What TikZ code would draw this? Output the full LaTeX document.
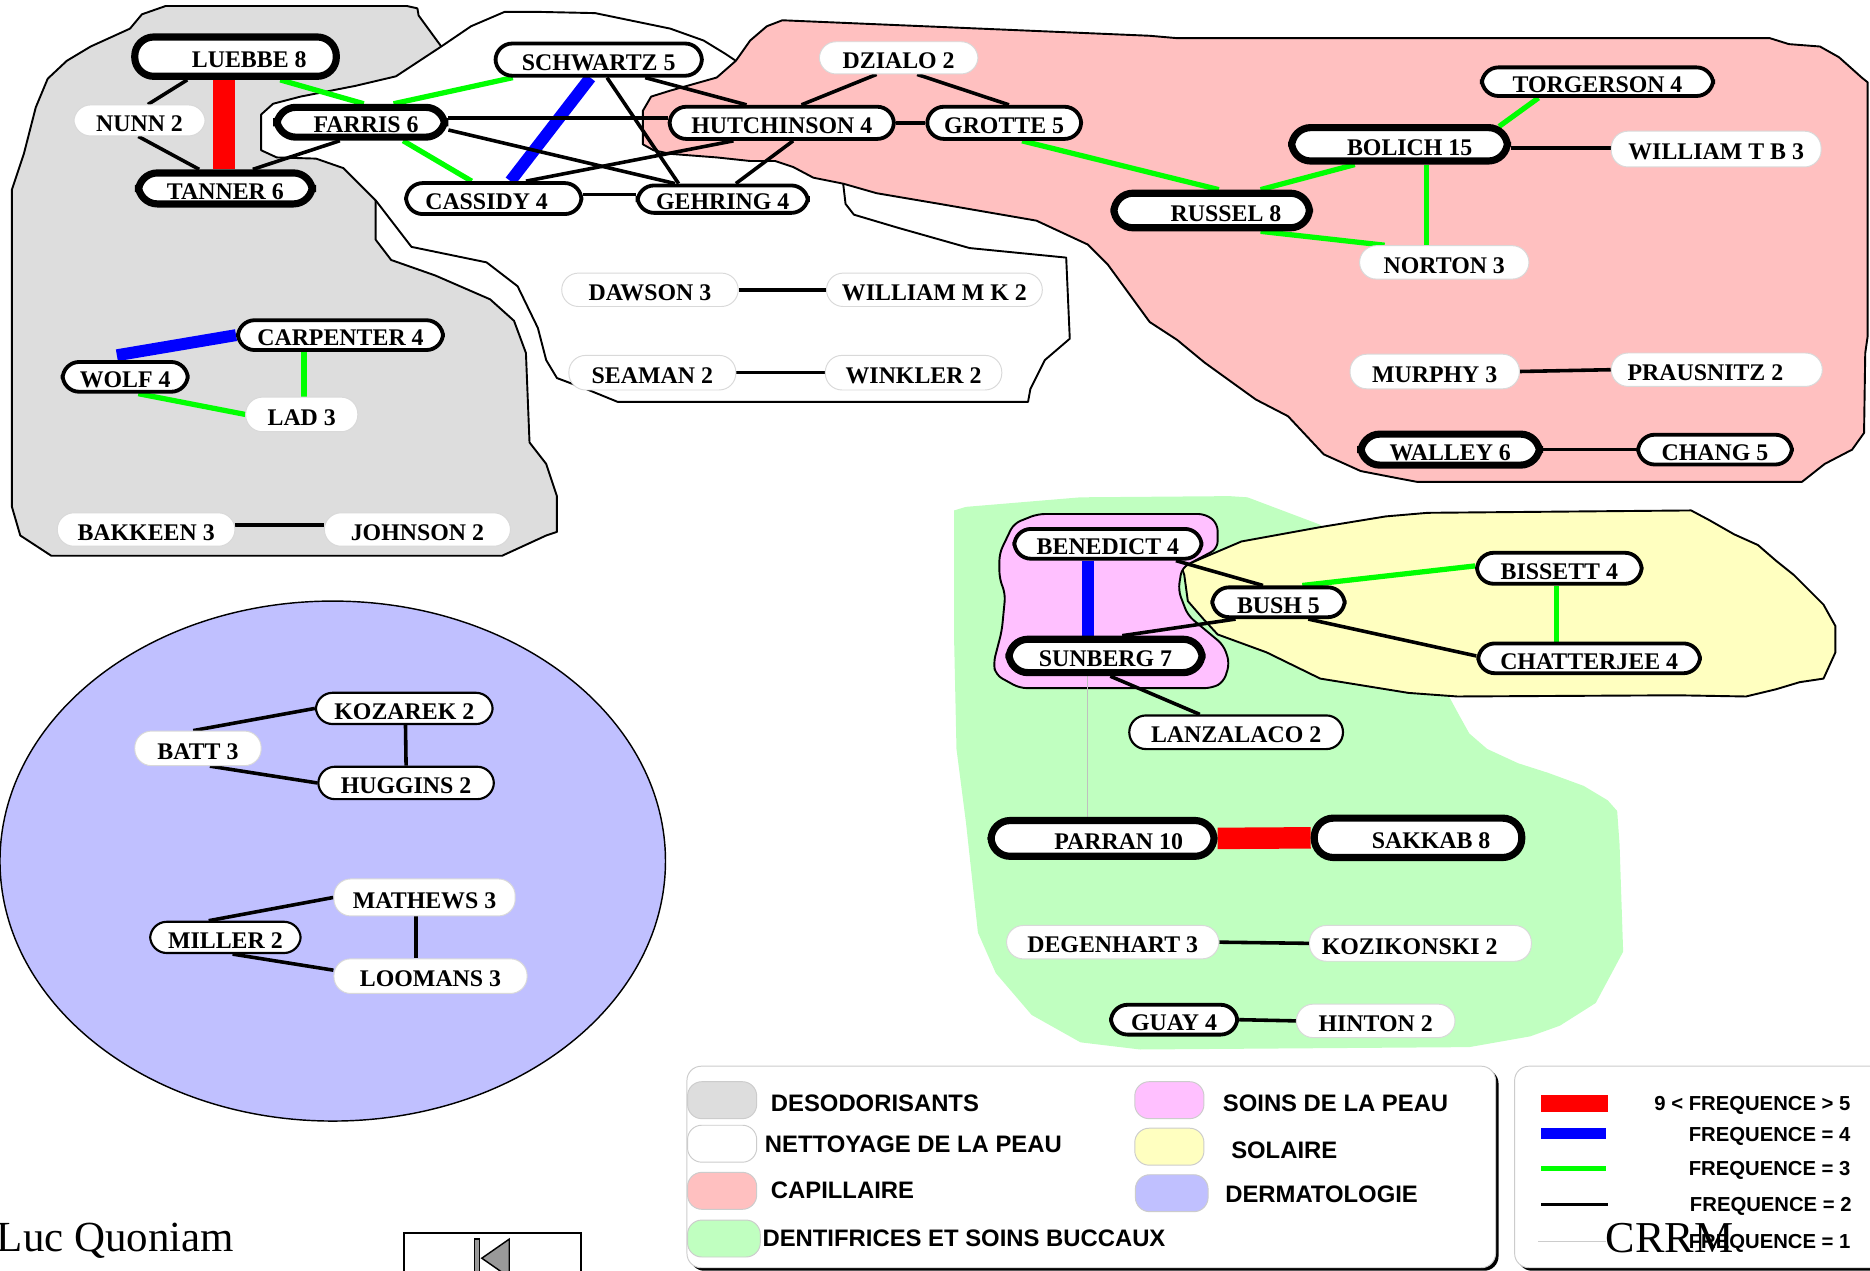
\documentclass[tikz,border=0pt]{standalone}
\usepackage{fontspec}
\setmainfont{Liberation Serif}
\newfontfamily\legendeFont{Liberation Sans}
\usetikzlibrary{calc}
\pgfdeclarelayer{fond}
\pgfdeclarelayer{liens}
\pgfsetlayers{fond,liens,main}
\definecolor{grisDeo}{HTML}{DDDDDD}
\definecolor{roseCap}{HTML}{FFC0C0}
\definecolor{vertDent}{HTML}{C0FFC0}
\definecolor{roseSoin}{HTML}{FFC0FF}
\definecolor{jauneSol}{HTML}{FFFFC0}
\definecolor{bleuDerm}{HTML}{C0C0FF}
\definecolor{vertVif}{HTML}{00FF00}
\begin{document}
\begin{tikzpicture}[x=0.5pt, y=-0.5pt,
	nomBox/.style={rectangle, rounded corners=7pt, fill=white, inner sep=0pt, font=\bfseries\fontsize{10}{12}\selectfont, text height=9pt, text depth=0pt},
	grosBox/.style={nomBox, draw=black, line width=3pt, rounded corners=8pt},
	moyenBox/.style={nomBox, draw=black, line width=1.6pt},
	finBox/.style={nomBox, draw=black, line width=0.9pt},
	nuBox/.style={nomBox, draw=black!15, line width=0.4pt},
	zone/.style={draw=black, line width=0.8pt, line join=round},
	freqCinq/.style={draw=red, line width=9pt},
	freqQuatre/.style={draw=blue, line width=5pt},
	freqTrois/.style={draw=vertVif, line width=2.2pt},
	freqDeux/.style={draw=black, line width=1.5pt},
	freqUn/.style={draw=black!25, line width=0.4pt},
	pastille/.style={rectangle, rounded corners=6pt, draw=black!20, line width=0.4pt, minimum width=29pt, minimum height=15.5pt},
	legendeText/.style={inner sep=0pt, font=\legendeFont\bfseries\fontsize{10}{12}\selectfont, text height=7pt, text depth=0pt},
	freqText/.style={inner sep=0pt, font=\legendeFont\bfseries\fontsize{8.5}{10}\selectfont, text height=6pt, text depth=0pt, anchor=east}]
\useasboundingbox (0,0) rectangle (1568,1065);

% zones
\begin{pgfonlayer}{fond}
	\draw[zone, fill=grisDeo] (139,5) -- (341,5) -- (350,7) -- (351,13) -- (370,39) -- (315,168) -- (315,201) -- (328,218) -- (365,231) -- (411,251) -- (431,269) -- (441,296) -- (444,371) -- (458,389) -- (467,416) -- (467,446) -- (458,449) -- (421,466) -- (43,466) -- (17,449) -- (10,425) -- (10,159) -- (20,129) -- (30,90) -- (40,66) -- (56,51) -- (76,39) -- (109,24) -- (119,12) -- cycle;
	\draw[zone, fill=white] (219,96) -- (229,87) -- (252,81) -- (298,72) -- (332,64) -- (370,39) -- (395,22) -- (423,10) -- (453,10) -- (499,11) -- (562,24) -- (590,34) -- (608,45) -- (617,51) -- (660,120) -- (707,154) -- (709,171) -- (716,180) -- (753,191) -- (813,208) -- (894,216) -- (897,284) -- (876,302) -- (864,326) -- (862,337) -- (518,337) -- (491,326) -- (467,317) -- (458,302) -- (451,275) -- (434,240) -- (408,220) -- (345,207) -- (315,168) -- (288,141) -- (265,133) -- (232,132) -- (219,126) -- cycle;
	\draw[zone, fill=roseCap] (617,51) -- (629,34) -- (643,22) -- (656,17) -- (964,30) -- (987,32) -- (1484,32) -- (1500,37) -- (1526,39) -- (1542,48) -- (1561,65) -- (1566,69) -- (1566,282) -- (1564,296) -- (1563,363) -- (1553,377) -- (1530,389) -- (1511,404) -- (1188,404) -- (1172,401) -- (1141,395) -- (1110,381) -- (1080,349) -- (1053,335) -- (1010,304) -- (987,285) -- (964,270) -- (929,222) -- (912,205) -- (869,185) -- (788,171) -- (735,162) -- (707,154) -- (682,149) -- (665,140) -- (650,135) -- (629,135) -- (601,132) -- (562,129) -- (548,126) -- (539,121) -- (539,93) -- (546,81) -- (562,76) -- (601,65) -- cycle;
	\fill[vertDent] (800,428) -- (810,425) -- (906,417) -- (1031,416) -- (1046,417) -- (1107,440) -- (1215,584) -- (1222,597) -- (1232,615) -- (1247,628) -- (1273,640) -- (1298,648) -- (1328,659) -- (1348,671) -- (1356,680) -- (1358,708) -- (1361,798) -- (1353,813) -- (1338,841) -- (1308,860) -- (1283,869) -- (1232,878) -- (956,880) -- (906,874) -- (865,851) -- (835,816) -- (820,782) -- (810,690) -- (802,628) -- (800,535) -- cycle;
	\draw[zone, fill=jauneSol] (991,476) -- (1001,471) -- (1041,454) -- (1107,442) -- (1162,433) -- (1197,430) -- (1418,428) -- (1433,436) -- (1454,448) -- (1474,457) -- (1489,470) -- (1504,482) -- (1529,507) -- (1539,525) -- (1539,547) -- (1529,569) -- (1509,572) -- (1489,578) -- (1464,584) -- (1406,583) -- (1222,584) -- (1181,581) -- (1107,569) -- (1062,547) -- (1021,532) -- (1009,519) -- (996,504) -- (993,482) -- cycle;
	\draw[zone, fill=roseSoin, rounded corners=3pt] (850,439) -- (870,431) -- (1011,431) -- (1021,439) -- (1021,460) -- (991,476) -- (988,495) -- (996,516) -- (1026,541) -- (1031,556) -- (1026,572) -- (1016,577) -- (855,577) -- (835,566) -- (833,556) -- (840,529) -- (843,498) -- (838,485) -- (838,464) -- cycle;
	\draw[fill=bleuDerm, line width=0.6pt] (279,722) ellipse [x radius=139.5pt, y radius=109pt];
\end{pgfonlayer}

% desodorisants
\node[grosBox, minimum width=84.5pt, minimum height=16.5pt] (luebbeBox) at (197.5,47.5) {\hspace*{11.5pt}LUEBBE 8};
\node[nuBox, minimum width=55pt, minimum height=13pt] (nunnBox) at (117,101) {NUNN 2};
\node[grosBox, minimum width=73pt, minimum height=13pt] (tannerBox) at (189,158) {TANNER 6};
\node[moyenBox, minimum width=86pt, minimum height=12.5pt] (carpenterBox) at (285.5,281) {CARPENTER 4};
\node[moyenBox, minimum width=52.5pt, minimum height=12.5pt] (wolfBox) at (105,316) {WOLF 4};
\node[nuBox, minimum width=47pt, minimum height=14.5pt] (ladBox) at (253,347.5) {LAD 3};
\node[nuBox, minimum width=74.5pt, minimum height=14pt] (bakkeenBox) at (122.5,444) {BAKKEEN 3};
\node[nuBox, minimum width=78pt, minimum height=14pt] (johnsonBox) at (350,444) {JOHNSON 2};

% nettoyage de la peau
\node[grosBox, minimum width=70.5pt, minimum height=12.5pt] (farrisBox) at (302.5,102.5) {\hspace*{4.5pt}FARRIS 6};
\node[moyenBox, minimum width=86.5pt, minimum height=13.5pt] (schwartzBox) at (502,50) {SCHWARTZ 5};
\node[moyenBox, minimum width=73.5pt, minimum height=13pt] (cassidyBox) at (414,166.5) {CASSIDY 4\hspace*{6pt}};
\node[moyenBox, minimum width=71.5pt, minimum height=11.5pt] (gehringBox) at (606,167) {GEHRING 4};
\node[nuBox, minimum width=74pt, minimum height=14pt] (dawsonBox) at (545,243) {DAWSON 3};
\node[nuBox, minimum width=90.5pt, minimum height=14pt] (williamMKBox) at (783.5,243) {WILLIAM M K 2};
\node[nuBox, minimum width=70pt, minimum height=14.5pt] (seamanBox) at (547,312.5) {SEAMAN 2};
\node[nuBox, minimum width=74pt, minimum height=14.5pt] (winklerBox) at (766,312.5) {WINKLER 2};

% capillaire
\node[moyenBox, minimum width=94pt, minimum height=13.5pt] (hutchinsonBox) at (655.5,103) {HUTCHINSON 4};
\node[moyenBox, minimum width=64.5pt, minimum height=13.5pt] (grotteBox) at (842,103) {GROTTE 5};
\node[nuBox, minimum width=66.5pt, minimum height=13.5pt] (dzialoBox) at (753.5,48.5) {DZIALO 2};
\node[moyenBox, minimum width=97pt, minimum height=12pt] (torgersonBox) at (1339.5,68.5) {TORGERSON 4};
\node[grosBox, minimum width=90.5pt, minimum height=14pt] (bolichBox) at (1173.5,121) {\hspace*{8.5pt}BOLICH 15};
\node[nuBox, minimum width=88pt, minimum height=15pt] (williamTBBox) at (1439,125) {WILLIAM T B 3};
\node[grosBox, minimum width=82pt, minimum height=14.5pt] (russelBox) at (1016,176.5) {\hspace*{12pt}RUSSEL 8};
\node[nuBox, minimum width=71pt, minimum height=14pt] (nortonBox) at (1211,220) {NORTON 3};
\node[nuBox, minimum width=71pt, minimum height=14.5pt] (murphyBox) at (1203,311.5) {MURPHY 3};
\node[nuBox, minimum width=88.5pt, minimum height=14pt] (prausnitzBox) at (1439.5,310) {PRAUSNITZ 2\hspace*{9.5pt}};
\node[grosBox, minimum width=75pt, minimum height=13pt] (walleyBox) at (1216,377) {WALLEY 6};
\node[moyenBox, minimum width=64.5pt, minimum height=12.5pt] (changBox) at (1438,377) {CHANG 5};

% soins de la peau, solaire, dentifrices
\node[moyenBox, minimum width=78.5pt, minimum height=12.5pt] (benedictBox) at (929,456) {BENEDICT 4};
\node[moyenBox, minimum width=55.5pt, minimum height=12.5pt] (bushBox) at (1072,505) {BUSH 5};
\node[moyenBox, minimum width=69pt, minimum height=13pt] (bissettBox) at (1307.5,476.5) {BISSETT 4};
\node[grosBox, minimum width=81pt, minimum height=14pt] (sunbergBox) at (927,550) {SUNBERG 7};
\node[moyenBox, minimum width=93pt, minimum height=12.5pt] (chatterjeeBox) at (1332.5,552) {CHATTERJEE 4};
\node[finBox, minimum width=89.6pt, minimum height=14.1pt] (lanzalacoBox) at (1036.5,614) {LANZALACO 2};
\node[grosBox, minimum width=93.5pt, minimum height=15pt] (parranBox) at (924.5,703) {\hspace*{13.5pt}PARRAN 10};
\node[grosBox, minimum width=87pt, minimum height=16.5pt] (sakkabBox) at (1189,702.5) {\hspace*{11pt}SAKKAB 8};
\node[nuBox, minimum width=89pt, minimum height=14pt] (degenhartBox) at (933,790) {DEGENHART 3};
\node[nuBox, minimum width=93pt, minimum height=15pt] (kozikonskiBox) at (1191,791) {KOZIKONSKI 2\hspace*{9pt}};
\node[moyenBox, minimum width=53pt, minimum height=12.5pt] (guayBox) at (984.5,855) {GUAY 4};
\node[nuBox, minimum width=66.5pt, minimum height=14pt] (hintonBox) at (1153.5,856) {HINTON 2};

% dermatologie
\node[finBox, minimum width=74.1pt, minimum height=13.1pt] (kozarekBox) at (339,594) {KOZAREK 2};
\node[nuBox, minimum width=53pt, minimum height=14.5pt] (battBox) at (166,627.5) {BATT 3};
\node[finBox, minimum width=73.6pt, minimum height=13.6pt] (hugginsBox) at (340.5,656.5) {HUGGINS 2};
\node[nuBox, minimum width=76pt, minimum height=15.5pt] (mathewsBox) at (356,752.5) {MATHEWS 3};
\node[finBox, minimum width=63.1pt, minimum height=13.1pt] (millerBox) at (189,786) {MILLER 2};
\node[nuBox, minimum width=81pt, minimum height=14.5pt] (loomansBox) at (361,818.5) {LOOMANS 3};

% liens
\begin{pgfonlayer}{liens}
	\draw[freqCinq] ($(luebbeBox.south)+(-9.5,0)$) -- ($(tannerBox.north)+(-1,0)$);
	\draw[freqCinq] (parranBox.east) -- (sakkabBox.west);

	\draw[freqQuatre] ($(schwartzBox.south)+(-7,0)$) -- ($(cassidyBox.north)+(14,0)$);
	\draw[freqQuatre] (carpenterBox.west) -- ($(wolfBox.north)+(-7,-4)$);
	\draw[freqQuatre] ($(benedictBox.south)+(-17,0)$) -- ($(sunbergBox.north)+(-15,0)$);

	\draw[freqTrois] ($(luebbeBox.south)+(37.5,0)$) -- ($(farrisBox.north)+(2.5,0)$);
	\draw[freqTrois] ($(farrisBox.north)+(27.5,0)$) -- ($(schwartzBox.south)+(-72,0)$);
	\draw[freqTrois] ($(farrisBox.south)+(35.5,0)$) -- ($(cassidyBox.north)+(-18.5,0)$);
	\draw[freqTrois] ($(grotteBox.south)+(15,0)$) -- ($(russelBox.north)+(6,0)$);
	\draw[freqTrois] ($(russelBox.north)+(41,0)$) -- ($(bolichBox.south)+(-37.5,0)$);
	\draw[freqTrois] ($(russelBox.south)+(41,0)$) -- ($(nortonBox.north)+(-50,0)$);
	\draw[freqTrois] ($(bolichBox.south)+(22.5,0)$) -- ($(nortonBox.north)+(-15,0)$);
	\draw[freqTrois] ($(bolichBox.north east)+(-10,2)$) -- ($(torgersonBox.south)+(-49.5,0)$);
	\draw[freqTrois] ($(carpenterBox.south)+(-30.5,0)$) -- ($(ladBox.north)+(2,0)$);
	\draw[freqTrois] ($(wolfBox.south)+(11,0)$) -- (ladBox.west);
	\draw[freqTrois] ($(bushBox.north)+(20,0)$) -- ($(bissettBox.west)+(0,-2)$);
	\draw[freqTrois] ($(bissettBox.south)+(-2.5,0)$) -- ($(chatterjeeBox.north)+(-27.5,0)$);

	\draw[freqDeux] ($(luebbeBox.south)+(-40.5,0)$) -- ($(nunnBox.north)+(7,0)$);
	\draw[freqDeux] ($(nunnBox.south)+(-1,0)$) -- ($(tannerBox.north)+(-22,0)$);
	\draw[freqDeux] ($(farrisBox.south)+(-17.5,0)$) -- ($(tannerBox.north)+(23,0)$);
	\draw[freqDeux] ($(farrisBox.east)+(0,-3.5)$) -- ($(hutchinsonBox.west)+(0,-4)$);
	\draw[freqDeux] ($(farrisBox.east)+(0,6.5)$) -- ($(gehringBox.north)+(-40,0)$);
	\draw[freqDeux] ($(cassidyBox.north)+(27,0)$) -- ($(hutchinsonBox.south)+(-40.5,0)$);
	\draw[freqDeux] ($(cassidyBox.east)+(0,-3.5)$) -- ($(gehringBox.west)+(0,-4)$);
	\draw[freqDeux] ($(schwartzBox.south)+(39,0)$) -- ($(hutchinsonBox.north)+(-29.5,0)$);
	\draw[freqDeux] ($(schwartzBox.south)+(7,0)$) -- ($(gehringBox.north)+(-37,0)$);
	\draw[freqDeux] ($(hutchinsonBox.south)+(9.5,0)$) -- ($(gehringBox.north)+(11,0)$);
	\draw[freqDeux] ($(hutchinsonBox.north)+(16.5,0)$) -- ($(dzialoBox.south)+(-18.5,0)$);
	\draw[freqDeux] ($(dzialoBox.south)+(15.5,0)$) -- ($(grotteBox.north)+(4,0)$);
	\draw[freqDeux] (hutchinsonBox.east) -- (grotteBox.west);
	\draw[freqDeux] (dawsonBox.east) -- (williamMKBox.west);
	\draw[freqDeux] (seamanBox.east) -- (winklerBox.west);
	\draw[freqDeux] ($(bolichBox.east)+(0,3)$) -- ($(williamTBBox.west)+(0,-1)$);
	\draw[freqDeux] (murphyBox.east) -- (prausnitzBox.west);
	\draw[freqDeux] (walleyBox.east) -- (changBox.west);
	\draw[freqDeux] ($(bakkeenBox.east)+(0,-4)$) -- ($(johnsonBox.west)+(0,-4)$);
	\draw[freqDeux] ($(battBox.north)+(-4,0)$) -- (kozarekBox.west);
	\draw[freqDeux] ($(battBox.south)+(10,0)$) -- (hugginsBox.west);
	\draw[freqDeux] ($(kozarekBox.south)+(1,0)$) -- (hugginsBox.north);
	\draw[freqDeux] ($(millerBox.north)+(-14,0)$) -- (mathewsBox.west);
	\draw[freqDeux] ($(millerBox.south)+(6,0)$) -- ($(loomansBox.west)+(0,-5)$);
	\draw[freqDeux] ($(mathewsBox.south)+(-7,0)$) -- ($(loomansBox.north)+(-12,0)$);
	\draw[freqDeux] ($(benedictBox.south)+(57,0)$) -- ($(bushBox.north)+(-13,0)$);
	\draw[freqDeux] ($(sunbergBox.north)+(14,0)$) -- ($(bushBox.south)+(-36,0)$);
	\draw[freqDeux] ($(bushBox.south)+(25,0)$) -- ($(chatterjeeBox.west)+(0,-2)$);
	\draw[freqDeux] ($(sunbergBox.south)+(4,0)$) -- ($(lanzalacoBox.north)+(-30.5,0)$);
	\draw[freqDeux] (degenhartBox.east) -- (kozikonskiBox.west);
	\draw[freqDeux] (guayBox.east) -- (hintonBox.west);

	\draw[freqUn] ($(sunbergBox.south)+(-15,0)$) -- ($(parranBox.north)+(-12.5,0)$);
\end{pgfonlayer}

% legende des zones
\fill[black, rounded corners=6pt] (578.5,896.5) rectangle (1256.5,1065.5);
\draw[black!20, fill=white, line width=0.4pt, rounded corners=6pt] (576,894) rectangle (1254,1063);
\node[pastille, fill=grisDeo] (deoSwatch) at (605.5,922.5) {};
\node[pastille, fill=white] (nettoyageSwatch) at (605.5,959) {};
\node[pastille, fill=roseCap] (capSwatch) at (605.5,998.5) {};
\node[pastille, fill=vertDent, minimum width=30.5pt] (dentSwatch) at (607,1038.5) {};
\node[pastille, fill=roseSoin] (soinSwatch) at (980.5,922.5) {};
\node[pastille, fill=jauneSol] (solSwatch) at (980.5,961.5) {};
\node[pastille, fill=bleuDerm, minimum width=30.5pt] (dermSwatch) at (982.5,1000.5) {};
\node[legendeText, anchor=west] (deoText) at (646,925) {DESODORISANTS};
\node[legendeText, anchor=west] (nettoyageText) at (641,959) {NETTOYAGE DE LA PEAU};
\node[legendeText, anchor=west] (capText) at (646,998) {CAPILLAIRE};
\node[legendeText, anchor=west] (dentText) at (639,1038.5) {DENTIFRICES ET SOINS BUCCAUX};
\node[legendeText, anchor=west] (soinText) at (1025,925) {SOINS DE LA PEAU};
\node[legendeText, anchor=west] (solText) at (1032,964) {SOLAIRE};
\node[legendeText, anchor=west] (dermText) at (1027,1001) {DERMATOLOGIE};

% legende des frequences
\fill[black, rounded corners=6pt] (1272.5,896.5) rectangle (1600,1065.5);
\draw[black!20, fill=white, line width=0.4pt, rounded corners=6pt] (1270,894) rectangle (1598,1063);
\fill[red] (1292,918) rectangle (1348,932);
\fill[blue] (1292,946) rectangle (1347,955);
\fill[vertVif] (1292,978) rectangle (1347,982);
\fill[black] (1292,1008.5) rectangle (1348,1011);
\draw[black!20, line width=0.4pt] (1290,1041) -- (1347,1041);
\node[freqText] (cinqText) at (1552,925) {9 < FREQUENCE > 5};
\node[freqText] (quatreText) at (1552,951) {FREQUENCE = 4};
\node[freqText] (troisText) at (1552,980) {FREQUENCE = 3};
\node[freqText] (deuxText) at (1553,1010) {FREQUENCE = 2};
\node[freqText] (unText) at (1552,1041) {FREQUENCE = 1};

% signatures
\node[anchor=base west, inner sep=0pt, font=\fontsize{18}{20}\selectfont] (auteurLabel) at (-3,1049.5) {Luc Quoniam};
\node[anchor=base west, inner sep=0pt, font=\fontsize{18.5}{20}\selectfont] (crrmLabel) at (1346,1050) {CRRM};

% bouton retour
\draw[line width=1pt, fill=white] (339,1034) rectangle (487,1090);
\draw[line width=0.6pt, fill=black!40] (398,1039) rectangle (402,1080);
\draw[line width=0.6pt, fill=black!40] (404,1055) -- (427,1039) -- (427,1071) -- cycle;
\end{tikzpicture}
\end{document}
